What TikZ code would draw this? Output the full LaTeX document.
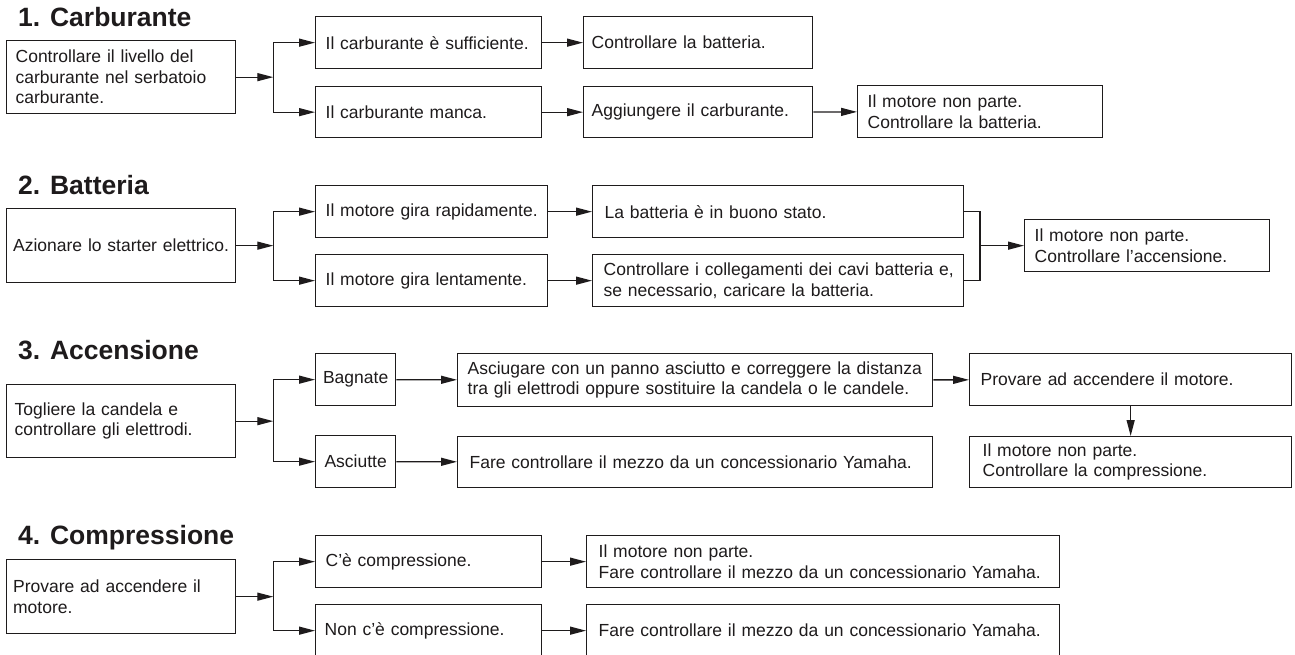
\documentclass[tikz,border=0pt]{standalone}
\usepackage{fontspec}
\setmainfont{Liberation Sans}
\usetikzlibrary{arrows.meta}
\definecolor{ink}{RGB}{30,27,28}
\begin{document}
\begin{tikzpicture}[x=1pt,y=-1pt,
  box/.style={draw=ink, line width=1.3pt, text=ink, anchor=north west, inner ysep=0pt, align=left, font=\fontsize{17.5pt}{20.5pt}\selectfont},
  ttl/.style={anchor=base west, inner sep=0pt, text=ink, font=\fontsize{26.5pt}{30pt}\bfseries\selectfont},
  arr/.style={draw=ink, line width=1.3pt, -{Triangle[length=16pt,width=8pt]}},
  ln/.style={draw=ink, line width=1.3pt}]
\useasboundingbox[fill=white] (0,0) rectangle (1295,654);

% ---------- 1. Carburante
\node[ttl] (T1) at (18,26) {1. Carburante};
\node[box, minimum height=73pt, text width=211pt, inner xsep=9pt] (A1) at (6,40)
  {\mbox{Controllare il livello del}\\\mbox{carburante nel serbatoio}\\\mbox{carburante.}};
\node[box, minimum height=52pt, text width=206pt, inner xsep=10pt] (B1) at (315,16) {\mbox{Il carburante è sufficiente.}};
\node[box, minimum height=51pt, text width=206pt, inner xsep=10pt] (B2) at (315,86) {\mbox{Il carburante manca.}};
\node[box, minimum height=52pt, text width=213pt, inner xsep=8pt] (C1) at (583,16) {\mbox{Controllare la batteria.}};
\node[box, minimum height=51pt, text width=213pt, inner xsep=8pt] (C2) at (583,86) {\mbox{Aggiungere il carburante.}};
\node[box, minimum height=52pt, text width=225pt, inner xsep=10pt] (D2) at (857,85)
  {\mbox{Il motore non parte.}\\\mbox{Controllare la batteria.}};
\coordinate (s1) at ([xshift=37pt]A1.east);
\draw[arr] (A1.east) -- (s1);
\draw[arr] (s1) |- (B1);
\draw[arr] (s1) |- (B2);
\draw[arr] (B1) -- (C1);
\draw[arr] (B2) -- (C2);
\draw[arr] (C2) -- (D2);

% ---------- 2. Batteria
\node[ttl] (T2) at (18,194) {2. Batteria};
\node[box, minimum height=74pt, text width=216pt, inner xsep=6.5pt] (A2) at (6,208)
  {\mbox{Azionare lo starter elettrico.}};
\node[box, minimum height=52pt, text width=212pt, inner xsep=10pt] (R1) at (315,185) {\mbox{Il motore gira rapidamente.}};
\node[box, minimum height=52pt, text width=212pt, inner xsep=10pt] (R2) at (315,254) {\mbox{Il motore gira lentamente.}};
\node[box, minimum height=52pt, text width=347pt, inner xsep=12pt] (CR1) at (592,185) {\mbox{La batteria è in buono stato.}};
\node[box, minimum height=52pt, text width=349pt, inner xsep=11pt] (CR2) at (592,254)
  {\mbox{Controllare i collegamenti dei cavi batteria e,}\\\mbox{se necessario, caricare la batteria.}};
\node[box, minimum height=52pt, text width=225pt, inner xsep=10pt] (F2) at (1024,219)
  {\mbox{Il motore non parte.}\\\mbox{Controllare l’accensione.}};
\coordinate (s2) at ([xshift=37pt]A2.east);
\draw[arr] (A2.east) -- (s2);
\draw[arr] (s2) |- (R1);
\draw[arr] (s2) |- (R2);
\draw[arr] (R1) -- (CR1);
\draw[arr] (R2) -- (CR2);
\coordinate (m2) at ([xshift=-44pt]F2.west);
\draw[ln] (CR1.east) -| (m2);
\draw[ln] (CR2.east) -| (m2);
\draw[arr] (m2) -- (F2.west);

% ---------- 3. Accensione
\node[ttl] (T3) at (18,359) {3. Accensione};
\node[box, minimum height=73pt, text width=213pt, inner xsep=8pt] (A3) at (6,384)
  {\mbox{Togliere la candela e}\\\mbox{controllare gli elettrodi.}};
\node[box, minimum height=52pt, text width=72pt, inner xsep=4pt, align=center] (Bg) at (315,353) {Bagnate};
\node[box, minimum height=52pt, text width=72pt, inner xsep=4pt, align=center] (As) at (315,435) {Asciutte};
\node[box, minimum height=53pt, text width=455pt, inner xsep=10pt] (Ag) at (457,353)
  {\mbox{Asciugare con un panno asciutto e correggere la distanza}\\\mbox{tra gli elettrodi oppure sostituire la candela o le candele.}};
\node[box, minimum height=51pt, text width=451pt, inner xsep=12pt] (Fc) at (457,436)
  {\mbox{Fare controllare il mezzo da un concessionario Yamaha.}};
\node[box, minimum height=52pt, text width=300pt, inner xsep=11pt] (Pv) at (969,353)
  {\mbox{Provare ad accendere il motore.}};
\node[box, minimum height=51pt, text width=296pt, inner xsep=13pt] (N3) at (969,436)
  {\mbox{Il motore non parte.}\\\mbox{Controllare la compressione.}};
\coordinate (s3) at ([xshift=37pt]A3.east);
\draw[arr] (A3.east) -- (s3);
\draw[arr] (s3) |- (Bg);
\draw[arr] (s3) |- (As);
\draw[arr] (Bg) -- (Ag);
\draw[arr] (As) -- (Fc);
\draw[arr] (Ag) -- (Pv);
\draw[arr] (Pv) -- (N3);

% ---------- 4. Compressione
\node[ttl] (T4) at (18,544) {4. Compressione};
\node[box, minimum height=74pt, text width=216pt, inner xsep=6.5pt] (A4) at (6,559)
  {\mbox{Provare ad accendere il}\\\mbox{motore.}};
\node[box, minimum height=52pt, text width=206pt, inner xsep=10pt] (Cc) at (315,535) {\mbox{C’è compressione.}};
\node[box, minimum height=52pt, text width=208pt, inner xsep=9pt] (Nc) at (315,604) {\mbox{Non c’è compressione.}};
\node[box, minimum height=52pt, text width=449pt, inner xsep=12pt] (M4) at (586,535)
  {\mbox{Il motore non parte.}\\\mbox{Fare controllare il mezzo da un concessionario Yamaha.}};
\node[box, minimum height=52pt, text width=449pt, inner xsep=12pt] (F4) at (586,604)
  {\mbox{Fare controllare il mezzo da un concessionario Yamaha.}};
\coordinate (s4) at ([xshift=37pt]A4.east);
\draw[arr] (A4.east) -- (s4);
\draw[arr] (s4) |- (Cc);
\draw[arr] (s4) |- (Nc);
\draw[arr] (Cc) -- (M4);
\draw[arr] (Nc) -- (F4);
\end{tikzpicture}
\end{document}
